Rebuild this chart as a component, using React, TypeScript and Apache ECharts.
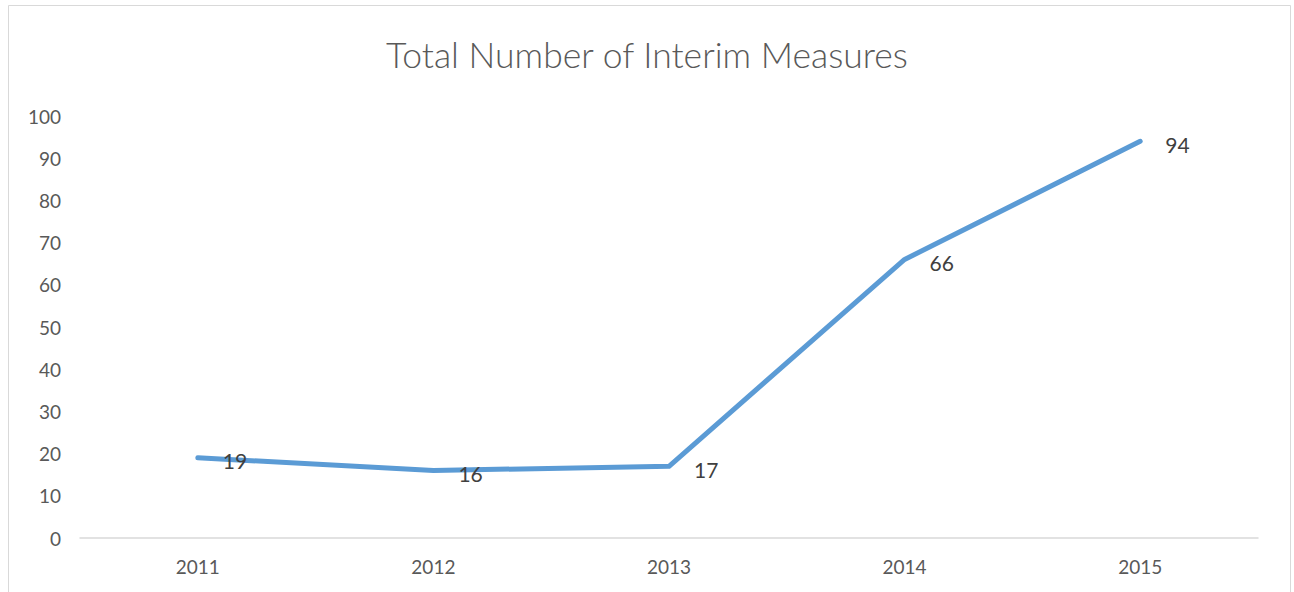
import React, { useEffect, useRef } from "react";
import * as echarts from "echarts";

const categories = ["2011", "2012", "2013", "2014", "2015"];
const values = [19, 16, 17, 66, 94];
const yTicks = [0, 10, 20, 30, 40, 50, 60, 70, 80, 90, 100];
const titleText = "Total Number of Interim Measures";

export default function App() {
  const ref = useRef<HTMLDivElement>(null);
  useEffect(() => {
    const chart = echarts.init(ref.current!, null, { renderer: "svg" });
    chart.setOption({
      animation: false,
      backgroundColor: "#ffffff",
      title: {
        text: titleText,
        left: "center",
        top: 31,
        textStyle: { fontFamily: "Lato", fontWeight: 300, fontSize: 35.5, color: "#595959" },
      },
      graphic: [
        {
          type: "rect",
          shape: { x: 8.5, y: 5.5, width: 1282, height: 620 },
          style: { fill: "none", stroke: "#d9d9d9", lineWidth: 1 },
          silent: true,
        },
      ],
      grid: { left: 80, right: 36, top: 116, bottom: 54 },
      xAxis: {
        type: "category",
        data: categories,
        boundaryGap: true,
        axisLine: { show: true, lineStyle: { color: "#d9d9d9", width: 1.5 } },
        axisTick: { show: false },
        axisLabel: { color: "#595959", fontSize: 19, fontFamily: "Lato", margin: 19 },
      },
      yAxis: {
        type: "value",
        min: yTicks[0],
        max: yTicks[yTicks.length - 1],
        interval: 10,
        splitLine: { show: false },
        axisLine: { show: false },
        axisTick: { show: false },
        axisLabel: { color: "#595959", fontSize: 19, fontFamily: "Lato", margin: 19 },
      },
      series: [
        {
          type: "line",
          data: values,
          symbol: "circle",
          symbolSize: 2,
          showSymbol: true,
          itemStyle: { color: "rgba(91,155,213,0)", borderWidth: 0 },
          lineStyle: { color: "#5b9bd5", width: 5, cap: "round", join: "round" },
          label: {
            show: true,
            position: "right",
            distance: 24,
            offset: [0, 3],
            color: "#404040",
            opacity: 1,
            fontSize: 21,
            fontFamily: "Lato",
          },
        },
      ],
    });
    return () => chart.dispose();
  }, []);
  return (
    <div
      ref={ref}
      style={{ position: "fixed", left: 0, top: 0, width: 1294, height: 592 }}
    />
  );
}
